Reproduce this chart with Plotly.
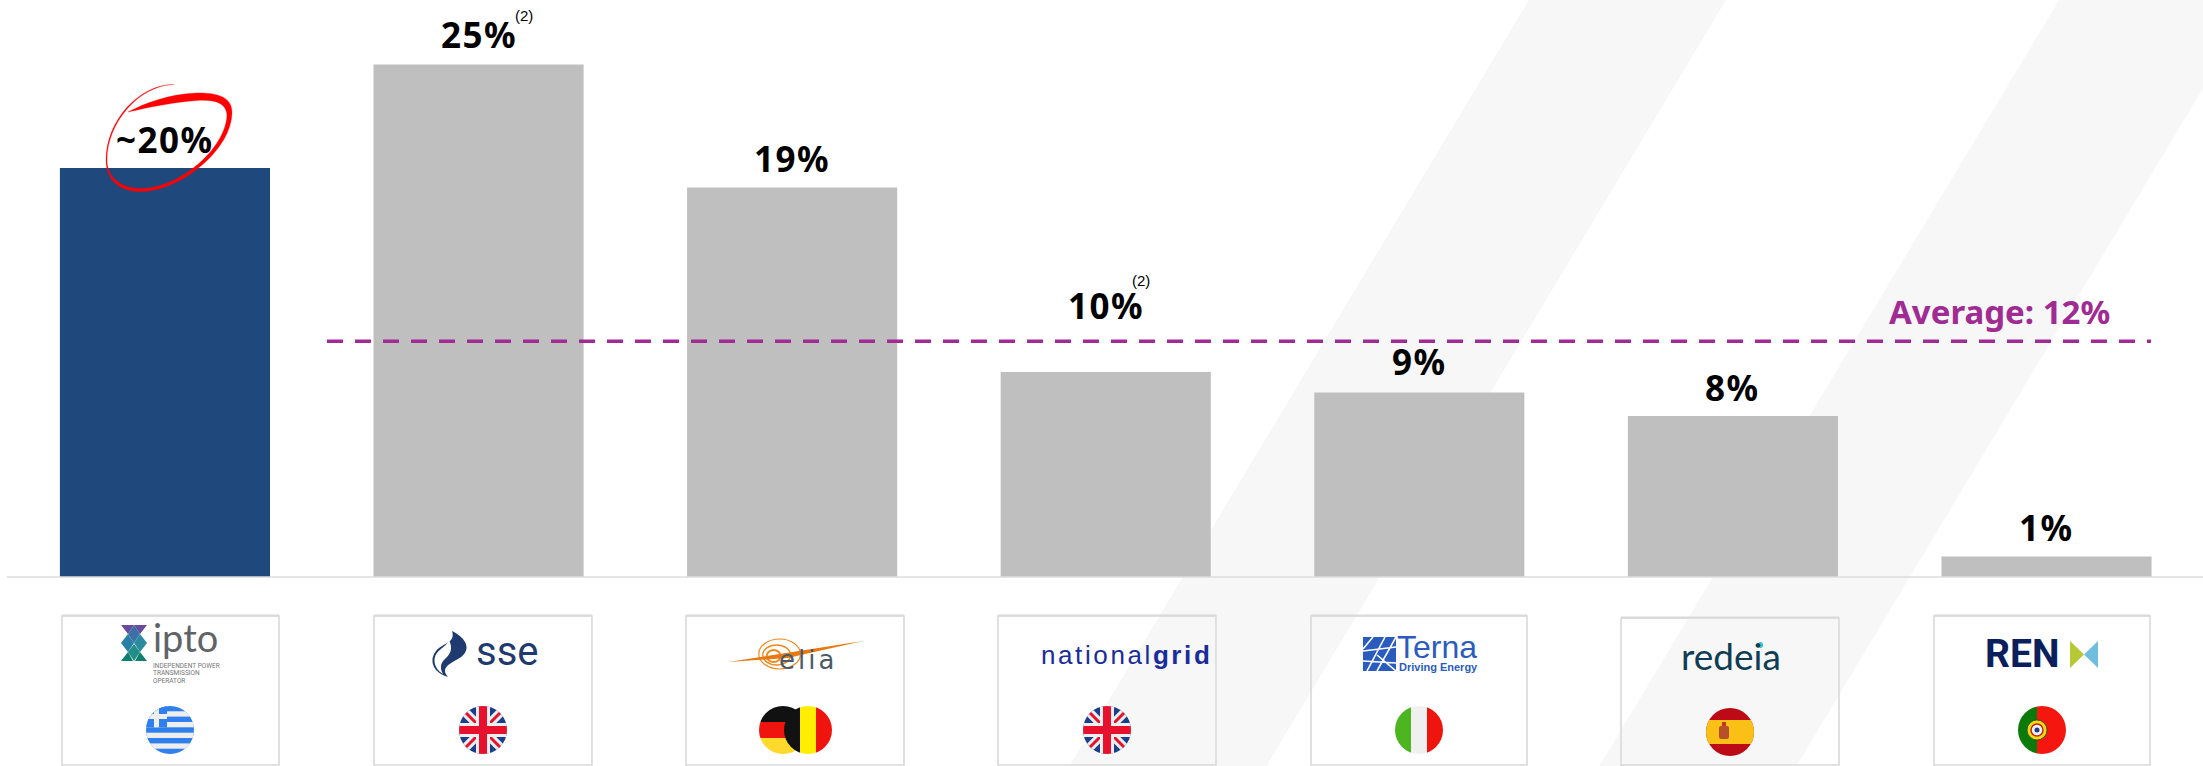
import base64
import plotly.graph_objects as go

# ---------- data ----------
companies = ["IPTO", "SSE", "Elia", "National Grid", "Terna", "Redeia", "REN"]
values = [19.95, 25, 19, 10, 9, 7.85, 1]
labels = ["~20%", "25%", "19%", "10%", "9%", "8%", "1%"]
average_level = [11.5]
average_label = ["Average: 12%"]
footnote_mark = ["(2)"]

W, H = 2203, 766
NAVY, GREY, PURPLE = "#1F497D", "#BFBFBF", "#A02B93"
FONT = "Noto Sans"


def px(x):
    return x / W


def py(y):
    return 1 - y / H


def path(cmds):
    out = []
    for c in cmds:
        out.append(c[0] + " ".join(f"{px(c[i]):.5f},{py(c[i + 1]):.5f}" for i in range(1, len(c), 2)))
    return " ".join(out) + " Z"


fig = go.Figure()
fig.add_bar(
    x=companies, y=values,
    marker=dict(color=[NAVY] + [GREY] * 6, line_width=0),
    width=0.67, showlegend=False, hoverinfo="skip",
)

shapes = []
# background stripes
for x_top_left, x_top_right in [(1529, 1726), (2059, 2256)]:
    shapes.append(dict(
        type="path", xref="paper", yref="paper", layer="below", fillcolor="#F7F7F7", line_width=0,
        path=path([("M", x_top_left, 0), ("L", x_top_right, 0),
                   ("L", x_top_right - 0.6 * H, H), ("L", x_top_left - 0.6 * H, H)]),
    ))
# baseline
shapes.append(dict(type="line", xref="paper", yref="y", x0=px(7), x1=1, y0=0, y1=0,
                   line=dict(color="#DDDDDD", width=1.5)))
# average line
shapes.append(dict(type="line", xref="paper", yref="y", x0=px(327), x1=px(2151),
                   y0=average_level[0], y1=average_level[0],
                   line=dict(color=PURPLE, width=3.5, dash="16px,12px")))
# logo boxes
for left, right, top in [(62, 279, 616), (374, 592, 616), (686, 904, 616), (998, 1216, 616),
                         (1311, 1527, 616), (1621, 1839, 618), (1934, 2150, 616)]:
    shapes.append(dict(type="path", xref="paper", yref="paper", line=dict(color="#D9D9D9", width=1.6),
                       path=path([("M", left, top), ("L", right, top), ("L", right, 765), ("L", left, 765)])))
    shapes.append(dict(type="line", xref="paper", yref="paper", x0=px(left), x1=px(right),
                       y0=py(top - 0.5), y1=py(top - 0.5), line=dict(color="#D9D9D9", width=2)))
# hand-drawn red ellipse
shapes.append(dict(
    type="path", xref="paper", yref="paper", fillcolor="#FF0000", line=dict(color="#FF0000", width=0.3),
    path=path([
        ("M", 174, 84.5),
        ("C", 140, 84, 106, 120, 106, 160),
        ("C", 106, 182, 122, 192, 142, 191.5),
        ("C", 180, 191, 232, 150, 232, 112),
        ("C", 232, 96, 215, 92.5, 196, 93),
        ("C", 170, 94, 145, 103, 128, 112),
        ("C", 150, 107, 175, 102, 197, 100.5),
        ("C", 215, 99.5, 226, 103, 227, 115),
        ("C", 226, 148, 180, 188, 142, 188.5),
        ("C", 122, 189, 107, 178, 107, 160),
        ("C", 107, 122, 140, 85, 174, 84.5),
    ]),
))

# ---------- annotations ----------
ann = []
label_lift = [29, 30, 29, 67, 31, 29, 29]
for name, v, lab, lift in zip(companies, values, labels, label_lift):
    ann.append(dict(x=name, y=v, xref="x", yref="y",
                    text=f'<span style="letter-spacing:1.5px"><b>{lab}</b></span>', showarrow=False,
                    xanchor="center", yanchor="middle",
                    yshift=lift, font=dict(family=FONT, size=35, color="#000000")))
for xp, yp in [(524, 15), (1141, 280)]:
    ann.append(dict(x=px(xp), y=py(yp), xref="paper", yref="paper", text=footnote_mark[0], showarrow=False,
                    xanchor="center", yanchor="middle",
                    font=dict(family="Liberation Sans", size=15, color="#000000")))
ann.append(dict(x=px(1999), y=py(311), xref="paper", yref="paper", text=f"<b>{average_label[0]}</b>",
                showarrow=False, xanchor="center", yanchor="middle",
                font=dict(family=FONT, size=33, color=PURPLE)))


def logo(text, x, y, size, color, family="Roboto", anchor="left", **kw):
    ann.append(dict(x=px(x), y=py(y), xref="paper", yref="paper", text=text, showarrow=False,
                    xanchor=anchor, yanchor="middle", font=dict(family=family, size=size, color=color),
                    borderpad=0, **kw))


logo("ipto", 152, 637, 38, "#5F6368", family="Lato")
logo("INDEPENDENT POWER", 152, 666, 6.5, "#777777")
logo("TRANSMISSION", 152, 673, 6.5, "#777777")
logo("OPERATOR", 152, 681, 6.5, "#777777")
logo("sse", 475, 651, 40, "#1F3A6E", family="Roboto")
logo('<span style="letter-spacing:3px">elia</span>', 778, 660, 26, "#4A5A68", family="DejaVu Sans")
logo('<span style="letter-spacing:2.6px">national<b>grid</b></span>', 1040, 655, 26, "#1A2C9B", family="Liberation Sans")
logo("Terna", 1396, 647, 32, "#2A5CBF", family="Liberation Sans")
logo("<b>Driving Energy</b>", 1398, 667, 11, "#2A5CBF", family="Liberation Sans")
logo("redeia", 1680, 655, 37, "#0F3D55", family="Lato")
logo("<b>REN</b>", 1984, 654, 39, "#0B1F5C", family="Roboto")


# ---------- icons and flags ----------
def uri(svg):
    return "data:image/svg+xml;base64," + base64.b64encode(svg.encode()).decode()


def image(svg, x, y, w, h):
    return dict(source=uri(svg), xref="paper", yref="paper", x=px(x), y=py(y),
                sizex=w / W, sizey=h / H, xanchor="left", yanchor="top", sizing="stretch", layer="above")


def flag(body, cx, cy, fid):
    svg = (f'<svg xmlns="http://www.w3.org/2000/svg" width="48" height="48" viewBox="0 0 48 48">'
           f'<defs><clipPath id="{fid}"><circle cx="24" cy="24" r="24"/></clipPath></defs>'
           f'<g clip-path="url(#{fid})">{body}</g></svg>')
    return image(svg, cx - 24, cy - 24, 48, 48)


greece = ('<rect width="48" height="48" fill="#2F80ED"/>'
          + "".join(f'<rect x="0" y="{y}" width="48" height="5.3" fill="#EEEEEE"/>' for y in (5.3, 16, 26.7, 37.4))
          + '<rect width="21" height="21.3" fill="#2F80ED"/>'
          + '<rect x="8" y="0" width="5" height="21.3" fill="#EEEEEE"/><rect x="0" y="8" width="21" height="5" fill="#EEEEEE"/>')
uk = ('<rect width="48" height="48" fill="#1A3E8C"/>'
      '<path d="M0 0L48 48M48 0L0 48" stroke="#EEEEEE" stroke-width="9"/>'
      '<path d="M0 0L48 48M48 0L0 48" stroke="#E8112D" stroke-width="3"/>'
      '<rect x="17" width="14" height="48" fill="#EEEEEE"/><rect y="17" width="48" height="14" fill="#EEEEEE"/>'
      '<rect x="20" width="8" height="48" fill="#E8112D"/><rect y="20" width="48" height="8" fill="#E8112D"/>')
germany = ('<rect width="48" height="16" fill="#111111"/><rect y="16" width="48" height="16" fill="#F0140F"/>'
           '<rect y="32" width="48" height="16" fill="#FFDA2C"/>')
belgium = ('<rect width="16" height="48" fill="#111111"/><rect x="16" width="16" height="48" fill="#FFEE00"/>'
           '<rect x="32" width="16" height="48" fill="#F0140F"/>')
italy = ('<rect width="16" height="48" fill="#4CB51F"/><rect x="16" width="16" height="48" fill="#F0F0F0"/>'
         '<rect x="32" width="16" height="48" fill="#F0140F"/>')
spain = ('<rect width="48" height="48" fill="#BC0B16"/><rect y="12" width="48" height="24" fill="#FBC015"/>'
         '<rect x="13" y="18" width="10" height="13" rx="2" fill="#B5502A"/><rect x="16" y="14" width="4" height="4" fill="#C0392B"/>')
portugal = ('<rect width="19" height="48" fill="#0B7A0B"/><rect x="19" width="29" height="48" fill="#F5170F"/>'
            '<circle cx="19" cy="24" r="10" fill="#F6D615" stroke="#0B5A0B" stroke-width="0.8"/>'
            '<circle cx="19" cy="24" r="6" fill="#F4F4F4" stroke="#C8201A" stroke-width="1.5"/>'
            '<circle cx="19" cy="24" r="2.5" fill="#1A3E8C"/>')

images = [
    flag(greece, 170, 730, "gr"), flag(uk, 483, 730, "uk1"),
    flag(germany, 783, 730, "de"), flag(belgium, 808, 730, "be"),
    flag(uk, 1107, 730, "uk2"), flag(italy, 1419, 730, "it"),
    flag(spain, 1730, 732, "es"), flag(portugal, 2042, 730, "pt"),
]

ipto_icon = ('<svg xmlns="http://www.w3.org/2000/svg" width="26" height="36" viewBox="0 0 26 36">'
             '<path d="M0 0H13L7 9ZM13 0H26L19 9Z" fill="#6A4C9C"/>'
             '<path d="M7 9L13 0L19 9L13 18Z" fill="#3E6FA8"/>'
             '<path d="M0 18L7 9L13 18L7 27Z" fill="#2A7FA5"/><path d="M13 18L19 9L26 18L19 27Z" fill="#2B8CA0"/>'
             '<path d="M7 27L13 19L19 27L13 36Z" fill="#1F8F88"/>'
             '<path d="M0 36L7 27L12 36ZM14 36L19 27L26 36Z" fill="#0F8070"/></svg>')
sse_icon = ('<svg xmlns="http://www.w3.org/2000/svg" width="38" height="46" viewBox="0 0 38 46">'
            '<path d="M20 0C36 8 40 20 26 28C15 34 9 38 16 46C2 42 -4 30 4 20C10 12 24 12 20 0Z" fill="#1F3A6E"/>'
            '<path d="M17 9C15 16 4 18 2.5 28C2 35 6 40 11 43C7 36 9 31 15 26C20 21 20 15 17 9Z" fill="#FFFFFF"/></svg>')
elia_icon = ('<svg xmlns="http://www.w3.org/2000/svg" width="136" height="34" viewBox="0 0 136 34">'
             '<g fill="none" stroke="#EE8A1D"><ellipse cx="52" cy="16" rx="21" ry="15" stroke-width="1.2"/>'
             '<ellipse cx="49" cy="17" rx="14" ry="10" stroke-width="1.4"/><ellipse cx="46" cy="18" rx="7" ry="6" stroke-width="2"/></g>'
             '<path d="M0 24L52 16L136 3L60 20Z" fill="#E8780F"/></svg>')
terna_icon = ('<svg xmlns="http://www.w3.org/2000/svg" width="33" height="34" viewBox="0 0 33 34">'
              '<rect width="33" height="34" fill="#2A5CBF"/>'
              '<path d="M0 14L33 10M0 24L33 26M10 0L0 12M22 0L4 34M33 0L14 34M14 18L33 34" stroke="#FFFFFF" stroke-width="1.6" fill="none"/></svg>')
ren_icon = ('<svg xmlns="http://www.w3.org/2000/svg" width="28" height="27" viewBox="0 0 28 27">'
            '<path d="M0 0L14 13.5L0 27Z" fill="#B5C935"/><path d="M28 0L14 13.5L28 27Z" fill="#6FBEDF"/></svg>')
redeia_dot = ('<svg xmlns="http://www.w3.org/2000/svg" width="5" height="6" viewBox="0 0 5 6">'
              '<ellipse cx="2.5" cy="3" rx="2.5" ry="3" fill="#3CC4CE"/></svg>')
images += [
    image(ipto_icon, 121, 625, 26, 36), image(sse_icon, 432, 631, 38, 46),
    image(elia_icon, 728, 638, 135, 34), image(terna_icon, 1363, 637, 33, 34),
    image(ren_icon, 2070, 641, 28, 27), image(redeia_dot, 1758, 642, 5, 6),
]

fig.update_layout(
    width=W, height=H, margin=dict(l=0, r=0, t=0, b=0),
    paper_bgcolor="#FFFFFF", plot_bgcolor="rgba(0,0,0,0)",
    showlegend=False, shapes=shapes, annotations=ann, images=images,
    xaxis=dict(visible=False, range=[-0.526, 6.499], categoryorder="array", categoryarray=companies,
               domain=[0, 1]),
    yaxis=dict(visible=False, range=[-9.22, 28.15], domain=[0, 1]),
)
fig.write_html("out.html", config=dict(displayModeBar=False),
               post_script="document.body.style.margin='0';document.documentElement.style.overflow='hidden';")
